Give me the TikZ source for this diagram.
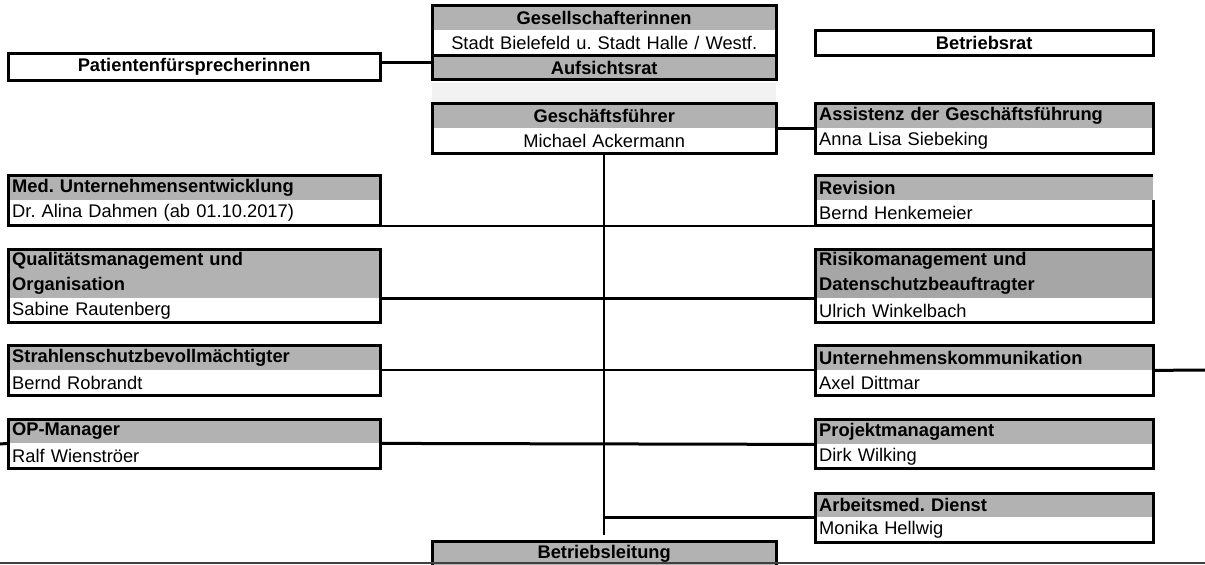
\documentclass[tikz,border=0pt]{standalone}
\usepackage{fontspec}
\setmainfont{Liberation Sans}
\usetikzlibrary{positioning}
\definecolor{hdgray}{HTML}{B2B2B2}
\definecolor{riskgray}{HTML}{A6A6A6}
\definecolor{bandgray}{HTML}{F2F2F2}
\newcommand\orgfont{\fontsize{18.3}{25}\selectfont\frenchspacing}
\begin{document}
\begin{tikzpicture}[x=1pt,y=-1pt,
    box/.style={text width=#1,inner xsep=4pt,inner ysep=0pt,minimum height=25pt,anchor=north west},
    hd/.style={box=#1,fill=hdgray,font=\orgfont\bfseries,align=left},
    nm/.style={box=#1,fill=white,font=\orgfont,align=left},
    frame/.style={line width=3pt},
    link/.style={line width=3pt},
    thinlink/.style={line width=2pt}]
  \useasboundingbox (0,0) rectangle (1205,565);
  \coordinate (lft) at (0,444);
  \coordinate (rgt) at (1205,370);
  \coordinate (bl0) at (0,563);
  \coordinate (bl1) at (1205,563);

  % top
  \node[box=364pt,align=center,font=\orgfont\bfseries,minimum height=27pt] (pat) at (8,53) {Patientenf\"ursprecherinnen};
  \node[box=330pt,align=center,font=\orgfont\bfseries] (br) at (815,30) {Betriebsrat};
  \node[hd=336pt,align=center] (ges) at (432,5) {Gesellschafterinnen};
  \node[nm=336pt,align=center,below=0pt of ges] (ges-n) {Stadt Bielefeld u. Stadt Halle / Westf.};
  \node[hd=336pt,align=center,minimum height=23pt,below=0pt of ges-n] (ar) {Aufsichtsrat};
  \node[fill=bandgray,minimum width=344pt,minimum height=19pt,inner sep=0pt,anchor=north west] (band) at (432,83) {};
  \node[hd=336pt,align=center] (gf) at (432,103) {Gesch\"aftsf\"uhrer};
  \node[nm=336pt,align=center,below=0pt of gf] (gf-n) {Michael Ackermann};
  \node[hd=330pt] (assist) at (815,103) {Assistenz der Gesch\"aftsf\"uhrung};
  \node[nm=330pt,below=0pt of assist] (assist-n) {Anna Lisa Siebeking};

  % left column
  \node[hd=364pt] (med) at (8,175) {Med. Unternehmensentwicklung};
  \node[nm=364pt,below=0pt of med] (med-n) {Dr. Alina Dahmen (ab 01.10.2017)};
  \node[hd=364pt,minimum height=49pt] (qm) at (8,249) {Qualit\"atsmanagement und\\Organisation};
  \node[nm=364pt,minimum height=24pt,below=0pt of qm] (qm-n) {Sabine Rautenberg};
  \node[hd=364pt] (str) at (8,345) {Strahlenschutzbevollm\"achtigter};
  \node[nm=364pt,below=0pt of str] (str-n) {Bernd Robrandt};
  \node[hd=364pt,minimum height=24pt] (op) at (8,419) {OP-Manager};
  \node[nm=364pt,below=0pt of op] (op-n) {Ralf Wienstr\"oer};

  % right column
  \node[hd=330pt] (rev) at (815,175) {Revision};
  \node[nm=330pt,below=0pt of rev] (rev-n) {Bernd Henkemeier};
  \node[hd=330pt,fill=riskgray,minimum height=49pt] (risk) at (815,249) {Risikomanagement und\\Datenschutzbeauftragter};
  \node[nm=330pt,minimum height=24pt,below=0pt of risk] (risk-n) {Ulrich Winkelbach};
  \node[hd=330pt] (uk) at (815,345) {Unternehmenskommunikation};
  \node[nm=330pt,below=0pt of uk] (uk-n) {Axel Dittmar};
  \node[hd=330pt] (proj) at (815,419) {Projektmanagament};
  \node[nm=330pt,minimum height=24pt,below=0pt of proj] (proj-n) {Dirk Wilking};
  \node[hd=330pt,minimum height=24pt] (arb) at (815,493) {Arbeitsmed. Dienst};
  \node[nm=330pt,below=0pt of arb] (arb-n) {Monika Hellwig};

  \node[hd=336pt,align=center] (bl) at (432,541) {Betriebsleitung};

  % frames
  \foreach \b in {ges,gf,assist,med,qm,str,op,risk,uk,proj,arb}
    \draw[frame] (\b.north west) rectangle (\b-n.south east);
  \foreach \b in {pat,br,ar,bl}
    \draw[frame] (\b.north west) rectangle (\b.south east);
  \draw[frame] (rev.north east) -- (rev.north west) -- (rev-n.south west) -- (rev-n.south east) -- (rev-n.north east);
  \draw[frame] (rev-n.south east) -- (risk.north east);

  % lines
  \path (gf-n.south) ++(0,381) coordinate (trunk);
  \draw[thinlink] (gf-n.south) -- (trunk);
  \draw[link] ([yshift=4pt]pat.east) -- ([yshift=4pt]pat.east -| ar.west);
  \draw[link] (gf-n.north east) -- (assist-n.north west);
  \draw[thinlink] (med-n.south east) -- (rev-n.south west);
  \draw[link] (qm.south east) -- (risk.south west);
  \draw[thinlink] (str.south east) -- (uk.south west);
  \draw[link] (op.south east) -- (proj.south west);
  \draw[link] (lft) -- (op.south west);
  \draw[link] (uk.south east) -- (rgt);
  \draw[link] (trunk |- arb.south west) -- (arb.south west);
  \draw[line width=1.5pt,black!75] (bl0) -- (bl1);
\end{tikzpicture}
\end{document}
